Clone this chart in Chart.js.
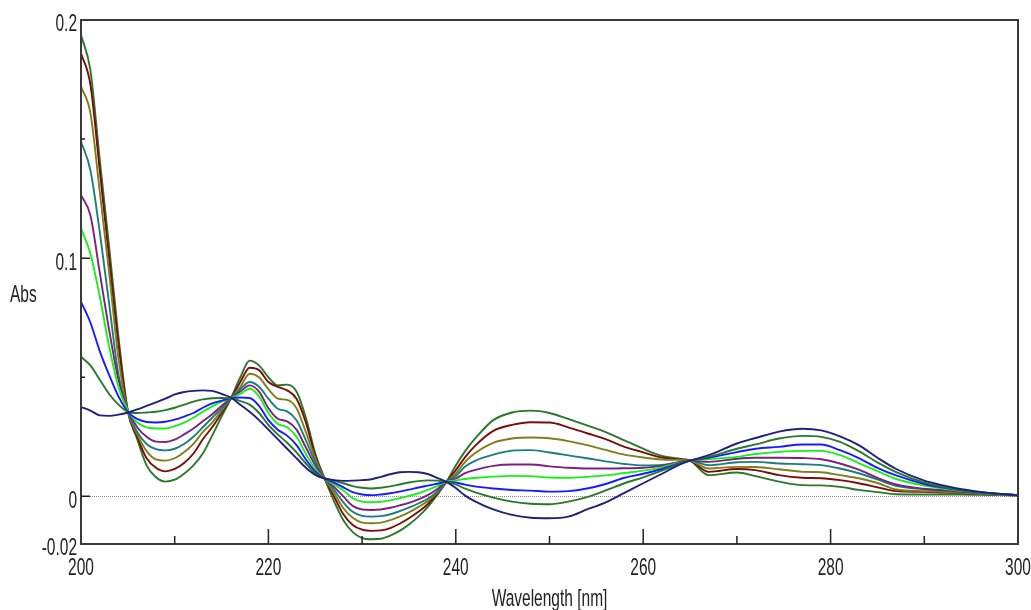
<!DOCTYPE html>
<html>
<head>
<meta charset="utf-8">
<script src="https://cdn.jsdelivr.net/npm/chart.js@4.4.1/dist/chart.umd.min.js"></script>
<style>
  html, body { margin: 0; padding: 0; background: #fff; }
  #wrap { width: 1031px; height: 610px; }
</style>
</head>
<body>
<div id="wrap"><canvas id="chart" width="1031" height="610"></canvas></div>
<script>
// wavelengths (nm) shared by all spectra
const wavelength = [200,201,202,203,204,205,206,207,208,209,210,211,212,213,214,215,216,217,218,219,220,221,222,223,224,225,226,227,228,229,230,231,232,233,234,235,236,237,238,239,240,241,242,244,246,248,250,252,254,256,258,260,262,264,265,267,270,272,274.5,277,279,281,283,285,287,290,292,294,296,298,300];

const absNavy = [.0375,.0360,.0340,.0338,.0343,.0352,.0365,.0380,.0395,.0410,.0428,.0438,.0443,.0445,.0443,.0430,.0415,.0385,.0355,.0320,.0280,.0240,.0200,.0160,.0120,.0090,.0075,.0068,.0065,.0066,.0068,.0072,.0082,.0093,.0101,.0103,.0101,.0094,.0078,.0061,.0035,.0003,-.0020,-.0055,-.0078,-.0090,-.0092,-.0085,-.0055,-.0025,.0015,.0055,.0095,.0135,.0150,.0173,.0222,.0245,.0272,.0284,.0277,.0252,.0215,.0162,.0115,.0066,.0046,.0030,.0019,.0011,.0005];
const absGreen1 = [.0586,.0550,.0490,.0430,.0385,.0355,.0350,.0352,.0355,.0362,.0372,.0385,.0398,.0407,.0412,.0413,.0412,.0400,.0385,.0350,.0300,.0260,.0225,.0185,.0138,.0097,.0075,.0065,.0055,.0043,.0036,.0033,.0036,.0042,.0050,.0058,.0064,.0067,.0066,.0061,.0050,.0032,.0018,-.0005,-.0022,-.0031,-.0033,-.0022,-.0003,.0025,.0055,.0080,.0108,.0138,.0150,.0166,.0200,.0218,.0243,.0254,.0250,.0229,.0190,.0143,.0102,.0058,.0040,.0026,.0017,.0010,.0005];
const absBlue = [.0817,.0730,.0610,.0510,.0420,.0355,.0325,.0312,.0310,.0313,.0322,.0335,.0350,.0372,.0390,.0402,.0412,.0415,.0413,.0380,.0320,.0280,.0255,.0215,.0155,.0105,.0075,.0058,.0038,.0018,.0008,.0005,.0008,.0013,.0020,.0028,.0037,.0045,.0053,.0061,.0058,.0049,.0042,.0033,.0027,.0024,.0020,.0022,.0033,.0052,.0078,.0095,.0115,.0140,.0150,.0162,.0186,.0200,.0208,.0218,.0218,.0194,.0161,.0120,.0088,.0052,.0037,.0025,.0016,.0010,.0005];
const absLime = [.1125,.1020,.0840,.0630,.0460,.0360,.0310,.0290,.0285,.0285,.0295,.0310,.0330,.0355,.0378,.0398,.0412,.0430,.0452,.0420,.0350,.0305,.0290,.0250,.0178,.0115,.0075,.0050,.0025,-.0008,-.0022,-.0025,-.0023,-.0017,-.0008,.0002,.0013,.0027,.0043,.0061,.0067,.0073,.0077,.0083,.0086,.0085,.0079,.0078,.0082,.0088,.0098,.0108,.0122,.0142,.0150,.0156,.0166,.0178,.0187,.0191,.0191,.0173,.0140,.0106,.0073,.0045,.0033,.0023,.0015,.0009,.0005];
const absPurple = [.1265,.1180,.0940,.0700,.0490,.0360,.0290,.0250,.0230,.0228,.0238,.0260,.0285,.0315,.0345,.0380,.0412,.0440,.0466,.0440,.0370,.0326,.0315,.0280,.0205,.0130,.0075,.0040,.0000,-.0040,-.0055,-.0057,-.0055,-.0048,-.0038,-.0027,-.0013,.0005,.0030,.0061,.0075,.0098,.0110,.0128,.0134,.0134,.0126,.0120,.0117,.0117,.0118,.0120,.0128,.0145,.0150,.0145,.0158,.0162,.0162,.0161,.0156,.0138,.0112,.0078,.0050,.0032,.0026,.0020,.0014,.0009,.0005];
const absTeal = [.1490,.1370,.1110,.0810,.0510,.0355,.0270,.0220,.0198,.0193,.0200,.0220,.0250,.0290,.0330,.0370,.0412,.0450,.0480,.0460,.0410,.0368,.0357,.0320,.0235,.0145,.0075,.0028,-.0025,-.0065,-.0082,-.0085,-.0083,-.0075,-.0062,-.0047,-.0030,-.0010,.0020,.0061,.0085,.0125,.0148,.0175,.0192,.0194,.0184,.0172,.0160,.0147,.0136,.0130,.0132,.0145,.0150,.0131,.0143,.0145,.0138,.0135,.0131,.0117,.0097,.0071,.0044,.0030,.0024,.0018,.0013,.0008,.0005];
const absOlive = [.1720,.1610,.1280,.0940,.0580,.0355,.0260,.0190,.0155,.0150,.0160,.0185,.0220,.0270,.0310,.0360,.0412,.0460,.0515,.0500,.0450,.0410,.0405,.0370,.0270,.0160,.0075,.0015,-.0050,-.0090,-.0110,-.0113,-.0110,-.0100,-.0085,-.0067,-.0045,-.0020,.0015,.0061,.0095,.0145,.0180,.0225,.0243,.0247,.0244,.0232,.0215,.0195,.0175,.0163,.0155,.0153,.0150,.0117,.0124,.0123,.0114,.0103,.0101,.0089,.0076,.0056,.0029,.0022,.0019,.0015,.0011,.0007,.0004];
const absMaroon = [.1860,.1730,.1370,.1000,.0640,.0355,.0250,.0160,.0120,.0105,.0115,.0140,.0180,.0240,.0290,.0350,.0412,.0480,.0540,.0530,.0480,.0460,.0445,.0410,.0310,.0170,.0075,.0000,-.0075,-.0120,-.0140,-.0145,-.0143,-.0133,-.0115,-.0092,-.0065,-.0033,.0010,.0061,.0110,.0165,.0210,.0275,.0300,.0311,.0310,.0290,.0265,.0240,.0208,.0185,.0163,.0155,.0150,.0103,.0115,.0110,.0089,.0078,.0076,.0068,.0055,.0038,.0022,.0019,.0016,.0013,.0010,.0007,.0004];
const absGreen2 = [.1937,.1790,.1415,.1050,.0670,.0360,.0240,.0130,.0080,.0062,.0070,.0095,.0130,.0180,.0255,.0335,.0412,.0500,.0570,.0550,.0500,.0466,.0469,.0440,.0330,.0180,.0075,-.0020,-.0100,-.0150,-.0175,-.0180,-.0178,-.0165,-.0145,-.0118,-.0085,-.0045,.0005,.0061,.0130,.0190,.0240,.0320,.0352,.0360,.0350,.0325,.0298,.0270,.0235,.0200,.0170,.0157,.0150,.0089,.0100,.0085,.0062,.0047,.0046,.0040,.0027,.0018,.0009,.0008,.0008,.0008,.0007,.0005,.0003];

const seriesList = [absNavy, absGreen1, absBlue, absLime, absPurple, absTeal, absOlive, absMaroon, absGreen2];
const seriesColors = ['#20207e', '#2a782a', '#1a1aff', '#18f018', '#7e207e', '#1a7e7e', '#7e7e1a', '#7a0c0c', '#2a782a'];

// axis ticks
const xLabels = [200, 220, 240, 260, 280, 300];
const xMajorTicks = [220, 240, 260, 280];
const xMinorTicks = [210, 230, 250, 270, 290];
const yLabels = [-0.02, 0, 0.1, 0.2];
const yMajorTicks = [0, 0.1];
const yMinorTicks = [0.05, 0.15];

const FONT = '15.5px "Liberation Sans", Arial, sans-serif';

// text in the original is stretched vertically
function stretchedText(ctx, txt, x, y, align, baseline) {
    ctx.save();
    ctx.translate(x, y);
    ctx.scale(1, 1.5);
    ctx.font = FONT;
    ctx.fillStyle = '#222';
    ctx.textAlign = align;
    ctx.textBaseline = baseline;
    ctx.fillText(txt, 0, 0);
    ctx.restore();
}

const spectrumFrame = {
    id: 'spectrumFrame',
    beforeDatasetsDraw(chart) {
        const {ctx, chartArea, scales} = chart;
        const y0 = Math.round(scales.y.getPixelForValue(0)) + 0.5;
        ctx.save();
        ctx.strokeStyle = '#8a8a8a';
        ctx.lineWidth = 1;
        ctx.setLineDash([1, 1]);
        ctx.beginPath();
        ctx.moveTo(chartArea.left + 9, y0);
        ctx.lineTo(chartArea.right, y0);
        ctx.stroke();
        ctx.restore();
    },
    afterDraw(chart) {
        const {ctx, chartArea, scales} = chart;
        const {left, right, top, bottom} = chartArea;
        ctx.save();
        ctx.strokeStyle = '#3a3a3a';
        ctx.lineWidth = 2;
        ctx.strokeRect(left, top, right - left, bottom - top);

        ctx.strokeStyle = '#222';
        ctx.lineWidth = 1.5;
        ctx.beginPath();
        xMajorTicks.forEach(v => { const p = scales.x.getPixelForValue(v); ctx.moveTo(p, bottom); ctx.lineTo(p, bottom - 15); });
        xMinorTicks.forEach(v => { const p = scales.x.getPixelForValue(v); ctx.moveTo(p, bottom); ctx.lineTo(p, bottom - 8); });
        yMajorTicks.forEach(v => { const p = scales.y.getPixelForValue(v); ctx.moveTo(left, p); ctx.lineTo(left + 9, p); });
        yMinorTicks.forEach(v => { const p = scales.y.getPixelForValue(v); ctx.moveTo(left, p); ctx.lineTo(left + 4, p); });
        ctx.stroke();
        ctx.restore();

        xLabels.forEach(v => stretchedText(ctx, String(v), scales.x.getPixelForValue(v), 569, 'center', 'middle'));
        yLabels.forEach(v => stretchedText(ctx, String(v), left - 4, scales.y.getPixelForValue(v) + 5, 'right', 'middle'));
        stretchedText(ctx, 'Wavelength [nm]', (left + right) / 2, 606, 'center', 'alphabetic');
        stretchedText(ctx, 'Abs', 10, 302, 'left', 'alphabetic');
    }
};

new Chart(document.getElementById('chart'), {
    type: 'line',
    data: {
        datasets: seriesList.map((vals, i) => ({
            data: vals.map((v, j) => ({x: wavelength[j], y: v})),
            borderColor: seriesColors[i],
            borderWidth: 1.9,
            pointRadius: 0,
            fill: false,
            cubicInterpolationMode: 'monotone'
        }))
    },
    options: {
        responsive: false,
        animation: false,
        devicePixelRatio: 1,
        layout: { padding: {left: 81, right: 13, top: 20, bottom: 66} },
        plugins: {
            legend: { display: false },
            tooltip: { enabled: false }
        },
        scales: {
            x: { type: 'linear', min: 200, max: 300, display: false },
            y: { type: 'linear', min: -0.02, max: 0.2, display: false }
        }
    },
    plugins: [spectrumFrame]
});
</script>
</body>
</html>
